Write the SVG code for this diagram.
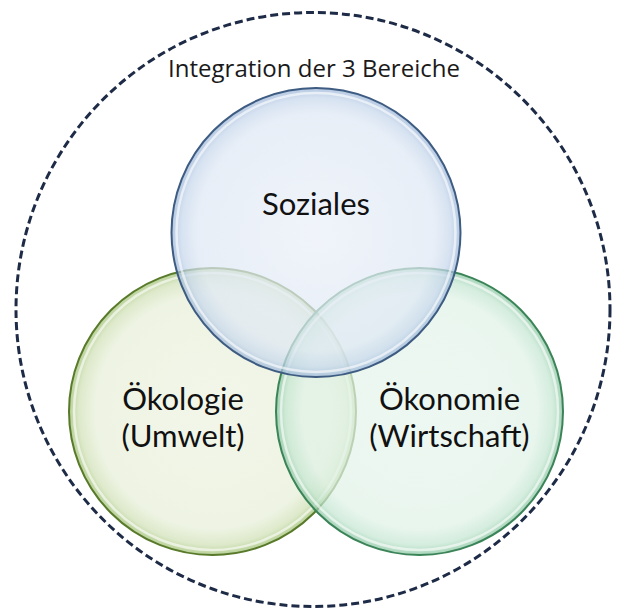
<svg xmlns="http://www.w3.org/2000/svg" width="623" height="612" viewBox="0 0 623 612">
<style>
.lbl{font-family:Lato,"Open Sans","Liberation Sans",sans-serif;font-size:31px;fill:#111;text-anchor:middle}
.title{font-family:"Open Sans","Liberation Sans",sans-serif;font-size:24px;fill:#1a1a1a;text-anchor:middle}
.ring{fill:none;stroke:#ffffff;stroke-width:2.5;stroke-opacity:0.6}
</style>
<defs>
<radialGradient id="gBlue" cx="0.5" cy="0.5" r="0.5">
<stop offset="0" stop-color="#EAF0F8"/>
<stop offset="0.82" stop-color="#DFE8F4"/>
<stop offset="0.93" stop-color="#C8D8EC"/>
<stop offset="1" stop-color="#9AB5D8"/>
</radialGradient>
<radialGradient id="gGreen" cx="0.5" cy="0.5" r="0.5">
<stop offset="0" stop-color="#EFF4E4"/>
<stop offset="0.82" stop-color="#E9F0DB"/>
<stop offset="0.93" stop-color="#D4E3BC"/>
<stop offset="1" stop-color="#A4C47A"/>
</radialGradient>
<radialGradient id="gTeal" cx="0.5" cy="0.5" r="0.5">
<stop offset="0" stop-color="#E7F5ED"/>
<stop offset="0.82" stop-color="#E0F2E7"/>
<stop offset="0.93" stop-color="#C4E6D1"/>
<stop offset="1" stop-color="#86C49F"/>
</radialGradient>
</defs>
<rect width="623" height="612" fill="#ffffff"/>
<g id="outer">
<circle cx="313" cy="309.5" r="297" fill="none" stroke="#1E2B47" stroke-width="3" stroke-dasharray="8 4"/>
<text class="title" x="314" y="77">Integration der 3 Bereiche</text>
</g>
<g id="connectors"></g>
<g id="oekologie">
<circle cx="212.5" cy="411.5" r="143.5" fill="url(#gGreen)" fill-opacity="0.78" stroke="#587A2A" stroke-width="2"/>
<circle class="ring" cx="212.5" cy="411.5" r="138.5"/>
</g>
<g id="oekonomie">
<circle cx="419.5" cy="411.5" r="143.5" fill="url(#gTeal)" fill-opacity="0.72" stroke="#3B8458" stroke-width="2"/>
<circle class="ring" cx="419.5" cy="411.5" r="138.5"/>
</g>
<g id="soziales">
<circle cx="316" cy="232.5" r="144.5" fill="url(#gBlue)" fill-opacity="0.72" stroke="#3E5C82" stroke-width="2"/>
<circle class="ring" cx="316" cy="232.5" r="139.5"/>
</g>
<g id="labels">
<text class="lbl" x="316" y="215">Soziales</text>
<text class="lbl" x="183" y="410">Ökologie</text>
<text class="lbl" x="183" y="447">(Umwelt)</text>
<text class="lbl" x="449.5" y="410">Ökonomie</text>
<text class="lbl" x="449.5" y="447">(Wirtschaft)</text>
</g>
</svg>
